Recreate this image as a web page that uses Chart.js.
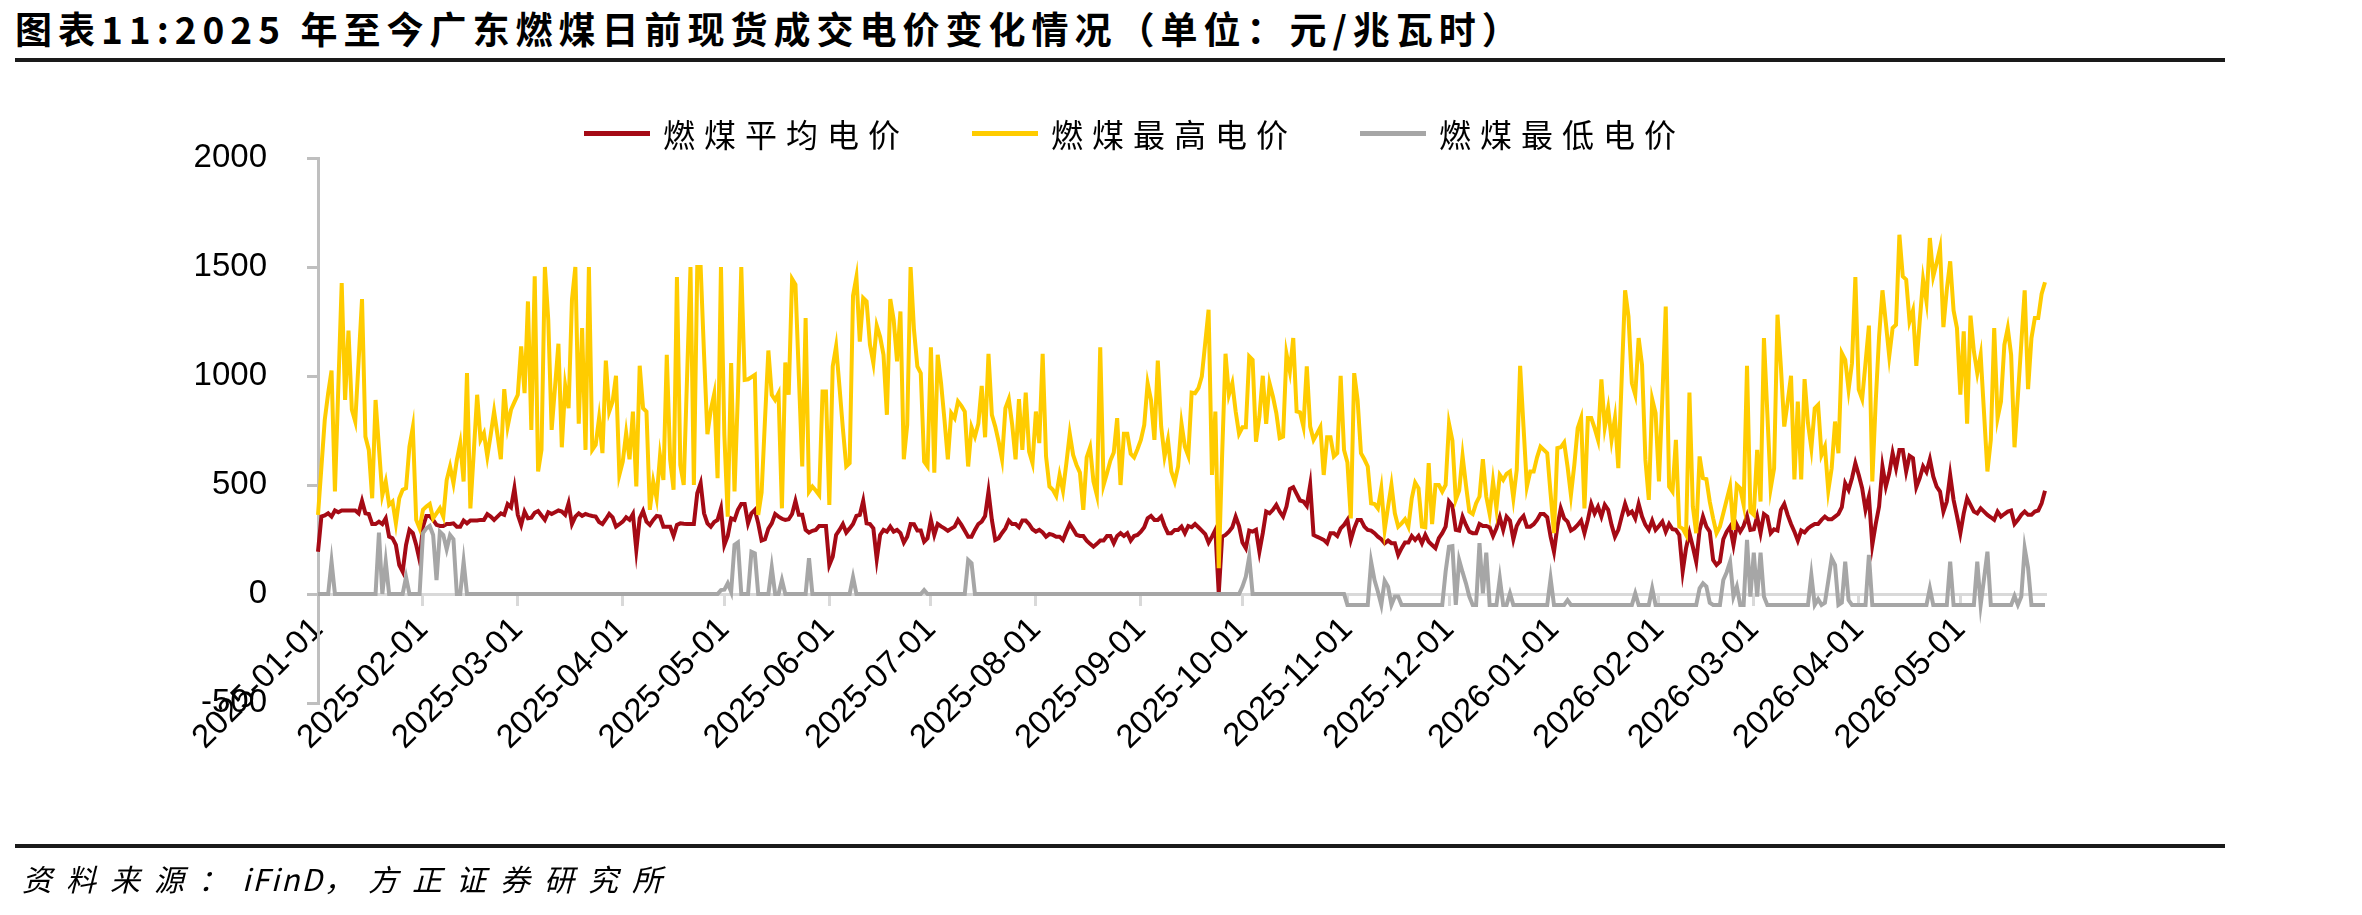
<!DOCTYPE html>
<html lang="zh-CN">
<head>
<meta charset="utf-8">
<title>2025年至今广东燃煤日前现货成交电价变化情况</title>
<script src="https://cdn.jsdelivr.net/npm/chart.js@4.4.1/dist/chart.umd.min.js"></script>
<style>
  html, body { margin: 0; padding: 0; background: #fff; }
  #page {
    position: relative; width: 2362px; height: 915px; overflow: hidden;
    font-family: "Noto Sans CJK SC", sans-serif; color: #000;
  }
  #chart-box { position: absolute; left: 0; top: 0; width: 2362px; height: 915px; }
  .title {
    position: absolute; left: 15px; top: 6px; white-space: nowrap;
    font-size: 37px; line-height: 44px; font-weight: 700; letter-spacing: 6px;
  }
  .rule { position: absolute; left: 15px; width: 2210px; height: 4px; background: #1a1a1a; }
  .source {
    position: absolute; left: 22px; top: 860px; white-space: nowrap;
    font-size: 30px; line-height: 36px; font-style: italic; letter-spacing: 14px;
  }
  .source .latin { letter-spacing: 2px; }
  #legend {
    position: absolute; left: 584px; top: 113px; height: 40px;
    display: flex; align-items: center; white-space: nowrap;
  }
  .legend-item { display: flex; align-items: center; margin-right: 63px; }
  .legend-item:last-child { margin-right: 0; }
  .swatch { display: inline-block; width: 66px; height: 5px; margin-right: 13px; }
  .legend-text { font-size: 32px; line-height: 40px; letter-spacing: 9px; }
</style>
</head>
<body>
<div id="page">
  <div class="title">图表11:2025 年至今广东燃煤日前现货成交电价变化情况（单位：元/兆瓦时）</div>
  <div class="rule" style="top:58px"></div>
  <div id="chart-box"><canvas id="chart"></canvas></div>
  <div id="legend"></div>
  <div class="rule" style="top:844px"></div>
  <div class="source">资料来源：<span class="latin">iFinD</span>，方正证券研究所</div>
</div>
<script>
/* Daily series, 2025-01-01 .. 2026-05-26 (元/兆瓦时) */

const START_DATE = '2025-01-01';
const DAY_COUNT = 511;

const monthTicks = [
  '2025-01-01', '2025-02-01', '2025-03-01', '2025-04-01', '2025-05-01', '2025-06-01',
  '2025-07-01', '2025-08-01', '2025-09-01', '2025-10-01', '2025-11-01', '2025-12-01',
  '2026-01-01', '2026-02-01', '2026-03-01', '2026-04-01', '2026-05-01'
];

const yTicks = [-500, 0, 500, 1000, 1500, 2000];

const seriesNames = ['燃煤平均电价', '燃煤最高电价', '燃煤最低电价'];

const avgPrice = [
  194, 355, 360, 370, 355, 383, 375, 383, 383, 383,
  383, 383, 370, 427, 370, 367, 321, 321, 332, 321,
  347, 263, 256, 225, 133, 103, 225, 294, 279, 225,
  156, 309, 358, 358, 340, 317, 312, 312, 321, 321,
  324, 309, 309, 337, 324, 337, 337, 337, 340, 340,
  366, 355, 340, 355, 370, 363, 412, 398, 485, 363,
  317, 378, 347, 350, 373, 381, 360, 340, 375, 367,
  375, 383, 378, 363, 416, 321, 355, 370, 358, 367,
  362, 358, 355, 330, 321, 343, 367, 352, 309, 320,
  332, 352, 340, 367, 202, 347, 381, 332, 317, 340,
  358, 355, 309, 309, 309, 266, 317, 324, 322, 321,
  321, 321, 462, 508, 370, 324, 309, 330, 340, 393,
  225, 266, 347, 340, 386, 413, 413, 324, 370, 386,
  324, 245, 251, 300, 324, 367, 355, 345, 340, 343,
  367, 427, 363, 363, 294, 282, 290, 294, 312, 312,
  312, 133, 171, 271, 294, 321, 282, 301, 321, 358,
  363, 427, 324, 321, 301, 159, 271, 294, 286, 309,
  286, 294, 279, 236, 263, 321, 320, 291, 291, 240,
  256, 340, 271, 321, 310, 301, 290, 300, 309, 340,
  317, 290, 263, 263, 294, 321, 332, 358, 470, 340,
  248, 256, 280, 301, 337, 321, 321, 306, 337, 337,
  320, 297, 286, 294, 282, 263, 275, 271, 263, 263,
  248, 286, 321, 297, 271, 266, 266, 245, 230, 217,
  230, 245, 245, 266, 266, 233, 266, 279, 266, 279,
  245, 266, 271, 286, 306, 347, 358, 340, 340, 355,
  312, 279, 279, 294, 294, 309, 279, 312, 306, 321,
  306, 291, 275, 236, 263, 294, 3, 263, 271, 286,
  306, 355, 312, 236, 210, 291, 286, 294, 194, 279,
  378, 370, 386, 409, 378, 355, 401, 481, 490, 459,
  429, 424, 404, 500, 271, 263, 256, 248, 233, 279,
  279, 266, 301, 317, 340, 248, 301, 340, 340, 309,
  294, 291, 279, 263, 251, 233, 245, 233, 233, 179,
  210, 236, 236, 266, 248, 266, 233, 271, 240, 225,
  210, 256, 279, 309, 424, 404, 294, 291, 355, 317,
  286, 279, 279, 321, 312, 312, 306, 266, 301, 352,
  294, 355, 337, 251, 312, 340, 358, 309, 309, 320,
  340, 367, 367, 352, 263, 194, 309, 393, 347, 332,
  291, 301, 317, 337, 279, 340, 413, 370, 401, 355,
  409, 386, 317, 263, 294, 355, 413, 367, 378, 347,
  413, 355, 317, 294, 337, 294, 312, 332, 286, 321,
  297, 294, 271, 103, 210, 279, 217, 148, 294, 355,
  309, 286, 156, 133, 148, 251, 286, 309, 225, 317,
  286, 312, 358, 294, 297, 355, 279, 367, 355, 279,
  297, 291, 386, 413, 363, 321, 286, 245, 291, 282,
  301, 312, 321, 321, 340, 355, 343, 343, 355, 367,
  398, 508, 478, 531, 600, 546, 485, 386, 447, 225,
  320, 401, 585, 493, 554, 646, 577, 661, 661, 562,
  634, 623, 490, 531, 585, 560, 618, 539, 493, 470,
  378, 424, 546, 432, 358, 279, 370, 439, 409, 378,
  370, 393, 378, 363, 352, 340, 378, 355, 367, 378,
  383, 321, 340, 363, 378, 363, 363, 378, 383, 416, 474
];

const maxPrice = [
  363, 580, 799, 921, 1025, 470, 950, 1426, 890, 1208,
  845, 791, 1070, 1353, 722, 661, 439, 890, 670, 454,
  516, 409, 424, 324, 439, 478, 485, 676, 765, 340,
  301, 386, 401, 413, 347, 370, 393, 355, 523, 585,
  508, 615, 692, 516, 1013, 393, 650, 914, 707, 738,
  631, 730, 837, 730, 618, 940, 768, 845, 880, 914,
  1136, 921, 1342, 753, 1457, 562, 661, 1500, 1258, 753,
  950, 1148, 673, 955, 852, 1350, 1500, 781, 1220, 661,
  1500, 661, 684, 807, 646, 1071, 837, 883, 1001, 546,
  607, 738, 618, 837, 493, 1047, 852, 837, 386, 516,
  439, 634, 523, 1097, 615, 478, 1454, 592, 500, 1000,
  1500, 500, 1500, 1500, 1100, 733, 845, 918, 531, 1500,
  730, 355, 1059, 470, 914, 1500, 982, 985, 995, 1005,
  363, 465, 800, 1117, 914, 890, 921, 393, 1062, 914,
  1445, 1419, 1000, 585, 1266, 470, 493, 475, 454, 929,
  929, 409, 1044, 1136, 950, 760, 585, 600, 1368, 1454,
  1158, 1358, 1342, 1143, 1059, 1231, 1180, 1097, 822, 1353,
  1258, 1067, 1296, 618, 776, 1500, 1212, 1044, 1013, 607,
  585, 1132, 557, 1097, 967, 800, 618, 830, 807, 883,
  863, 837, 585, 765, 722, 781, 955, 719, 1102, 822,
  768, 699, 618, 852, 894, 776, 618, 894, 661, 924,
  653, 600, 837, 692, 1102, 631, 493, 478, 450, 546,
  474, 600, 735, 638, 592, 557, 386, 627, 673, 516,
  454, 1132, 500, 554, 612, 649, 807, 500, 735, 735,
  643, 627, 664, 707, 776, 967, 890, 707, 1071, 768,
  631, 707, 562, 516, 585, 781, 676, 634, 924, 921,
  944, 998, 1151, 1304, 546, 837, 118, 638, 1102, 914,
  967, 837, 735, 765, 765, 1090, 1074, 699, 814, 1001,
  781, 967, 906, 830, 715, 722, 1102, 1021, 1174, 837,
  833, 768, 1044, 768, 707, 735, 765, 546, 719, 719,
  631, 646, 1001, 661, 603, 347, 1013, 890, 646, 618,
  585, 416, 413, 393, 485, 294, 400, 500, 370, 309,
  324, 343, 309, 439, 511, 485, 309, 306, 600, 321,
  500, 500, 470, 500, 781, 704, 432, 474, 634, 500,
  378, 367, 416, 447, 618, 447, 367, 516, 393, 546,
  523, 551, 562, 439, 569, 1047, 768, 493, 562, 562,
  627, 676, 661, 646, 460, 279, 669, 673, 695, 585,
  454, 592, 761, 807, 393, 807, 807, 761, 707, 985,
  765, 852, 707, 807, 577, 990, 1393, 1273, 967, 914,
  1174, 1051, 615, 432, 894, 830, 516, 898, 1319, 493,
  470, 707, 309, 300, 271, 924, 401, 279, 631, 531,
  527, 424, 347, 279, 309, 370, 432, 493, 294, 500,
  485, 409, 1047, 378, 363, 661, 424, 1174, 830, 485,
  577, 1281, 1044, 768, 880, 1001, 526, 883, 526, 986,
  784, 669, 852, 868, 638, 676, 474, 577, 791, 646,
  1105, 1074, 937, 1059, 1454, 937, 894, 1060, 1231, 516,
  880, 1180, 1393, 1243, 1090, 1220, 1235, 1648, 1457, 1442,
  1250, 1300, 1047, 1250, 1442, 1342, 1633, 1457, 1518, 1587,
  1224, 1396, 1526, 1301, 1220, 914, 1205, 781, 1277, 1113,
  1013, 1097, 830, 562, 707, 1220, 807, 883, 1143, 1220,
  1097, 673, 910, 1150, 1393, 940, 1174, 1266, 1266, 1377, 1430
];

const minPrice = [
  0, 0, 0, 0, 148, 0, 0, 0, 0, 0,
  0, 0, 0, 0, 0, 0, 0, 0, 282, 0,
  148, 0, 0, 0, 0, 0, 77, 0, 0, 0,
  0, 279, 301, 312, 271, 64, 286, 271, 205, 271,
  251, 0, 0, 148, 0, 0, 0, 0, 0, 0,
  0, 0, 0, 0, 0, 0, 0, 0, 0, 0,
  0, 0, 0, 0, 0, 0, 0, 0, 0, 0,
  0, 0, 0, 0, 0, 0, 0, 0, 0, 0,
  0, 0, 0, 0, 0, 0, 0, 0, 0, 0,
  0, 0, 0, 0, 0, 0, 0, 0, 0, 0,
  0, 0, 0, 0, 0, 0, 0, 0, 0, 0,
  0, 0, 0, 0, 0, 0, 0, 0, 0, 18,
  20, 49, 10, 225, 236, 0, 0, 0, 194, 187,
  0, 0, 0, 0, 122, 0, 0, 64, 0, 0,
  0, 0, 0, 0, 0, 164, 0, 0, 0, 0,
  0, 0, 0, 0, 0, 0, 0, 0, 77, 0,
  0, 0, 0, 0, 0, 0, 0, 0, 0, 0,
  0, 0, 0, 0, 0, 0, 0, 0, 0, 18,
  0, 0, 0, 0, 0, 0, 0, 0, 0, 0,
  0, 0, 156, 141, 0, 0, 0, 0, 0, 0,
  0, 0, 0, 0, 0, 0, 0, 0, 0, 0,
  0, 0, 0, 0, 0, 0, 0, 0, 0, 0,
  0, 0, 0, 0, 0, 0, 0, 0, 0, 0,
  0, 0, 0, 0, 0, 0, 0, 0, 0, 0,
  0, 0, 0, 0, 0, 0, 0, 0, 0, 0,
  0, 0, 0, 0, 0, 0, 0, 0, 0, 0,
  0, 0, 0, 0, 0, 0, 0, 0, 0, 0,
  0, 0, 0, 34, 80, 171, 0, 0, 0, 0,
  0, 0, 0, 0, 0, 0, 0, 0, 0, 0,
  0, 0, 0, 0, 0, 0, 0, 0, 0, 0,
  0, 0, 0, 0, -50, -50, -50, -50, -50, -50,
  -50, 148, 64, 10, -50, 61, 34, -50, -12, -12,
  -50, -50, -50, -50, -50, -50, -50, -50, -50, -50,
  -50, -50, -50, 103, 217, 220, -50, 156, 100, 49,
  -12, -50, -50, 233, 3, 190, -50, -50, -50, 72,
  -50, -50, 3, -50, -50, -50, -50, -50, -50, -50,
  -50, -50, -50, -50, 72, -50, -50, -50, -50, -28,
  -50, -50, -50, -50, -50, -50, -50, -50, -50, -50,
  -50, -50, -50, -50, -50, -50, -50, -50, -50, 3,
  -50, -50, -50, -50, 26, -50, -50, -50, -50, -50,
  -50, -50, -50, -50, -50, -50, -50, -50, 26, 49,
  34, -40, -50, -50, -50, 64, 100, 148, -12, 34,
  -50, -50, 248, -12, 190, -12, 190, -12, -50, -50,
  -50, -50, -50, -50, -50, -50, -50, -50, -50, -50,
  -50, 87, -50, -24, -50, -40, 60, 164, 133, -50,
  -40, 148, -28, -50, -50, -50, -50, -50, 179, -50,
  -50, -50, -50, -50, -50, -50, -50, -50, -50, -50,
  -50, -50, -50, -50, -50, -50, 26, -50, -50, -50,
  -50, -50, 148, -50, -50, -50, -50, -50, -50, -50,
  148, -50, 70, 194, -50, -50, -50, -50, -50, -50,
  -50, -9, -50, -12, 210, 120, -50, -50, -50, -50, -50
];

const seriesColors = ['#a50a15', '#ffcc00', '#a6a6a6'];

(function () {
  'use strict';

  const $ = (sel) => document.querySelector(sel);

  /* ── Helpers ───────────────────────────────────── */

  function buildDates(start, count) {
    const out = [];
    const d = new Date(start + 'T00:00:00Z');
    for (let i = 0; i < count; i++) {
      out.push(d.toISOString().slice(0, 10));
      d.setUTCDate(d.getUTCDate() + 1);
    }
    return out;
  }

  const AXIS_FONT = { family: '"Liberation Sans", Arial, sans-serif', size: 33 };

  /* ── HTML legend, built from the datasets ──────── */

  const htmlLegend = {
    id: 'htmlLegend',
    afterUpdate(chart) {
      const box = $('#legend');
      box.innerHTML = '';
      chart.data.datasets.forEach((ds) => {
        const item = document.createElement('div');
        item.className = 'legend-item';
        const swatch = document.createElement('span');
        swatch.className = 'swatch';
        swatch.style.background = ds.borderColor;
        const text = document.createElement('span');
        text.className = 'legend-text';
        text.textContent = ds.label;
        item.append(swatch, text);
        box.appendChild(item);
      });
    },
  };

  /* ── Chart ─────────────────────────────────────── */

  const dates = buildDates(START_DATE, DAY_COUNT);
  const values = [avgPrice, maxPrice, minPrice];

  const datasets = seriesNames.map((name, i) => ({
    label: name,
    data: values[i],
    borderColor: seriesColors[i],
    backgroundColor: seriesColors[i],
    borderWidth: 4,
    pointRadius: 0,
    tension: 0,
    order: 3 - i, // later series drawn on top, as in the source
  }));

  new Chart($('#chart'), {
    type: 'line',
    data: { labels: dates, datasets },
    plugins: [htmlLegend],
    options: {
      responsive: true,
      maintainAspectRatio: false,
      animation: false,
      layout: { padding: { top: 158, bottom: 212, left: 140, right: 317 } },
      plugins: {
        legend: { display: false },
        tooltip: { enabled: false },
      },
      scales: {
        x: {
          type: 'category',
          position: { y: 0 },
          offset: false,
          grid: { drawOnChartArea: false, tickLength: 10, color: '#d9d9d9', lineWidth: 3 },
          border: { display: true, color: '#d9d9d9', width: 3 },
          ticks: {
            autoSkip: false,
            minRotation: 45,
            maxRotation: 45,
            padding: 6,
            color: '#000',
            font: AXIS_FONT,
            callback(value) {
              const label = this.getLabelForValue(value);
              return monthTicks.includes(label) ? label : null;
            },
          },
        },
        y: {
          min: yTicks[0],
          max: yTicks[yTicks.length - 1],
          afterBuildTicks(scale) {
            scale.ticks = yTicks.map((v) => ({ value: v }));
          },
          afterFit(scale) {
            scale.width = 178; // left padding + width puts the axis at x = 318
          },
          grid: { drawOnChartArea: false, tickLength: 11, color: '#bfbfbf', lineWidth: 3 },
          border: { display: true, color: '#bfbfbf', width: 3 },
          ticks: {
            padding: 40,
            color: '#000',
            font: AXIS_FONT,
            callback: (v) => String(v),
          },
        },
      },
    },
  });
})();
</script>
</body>
</html>
